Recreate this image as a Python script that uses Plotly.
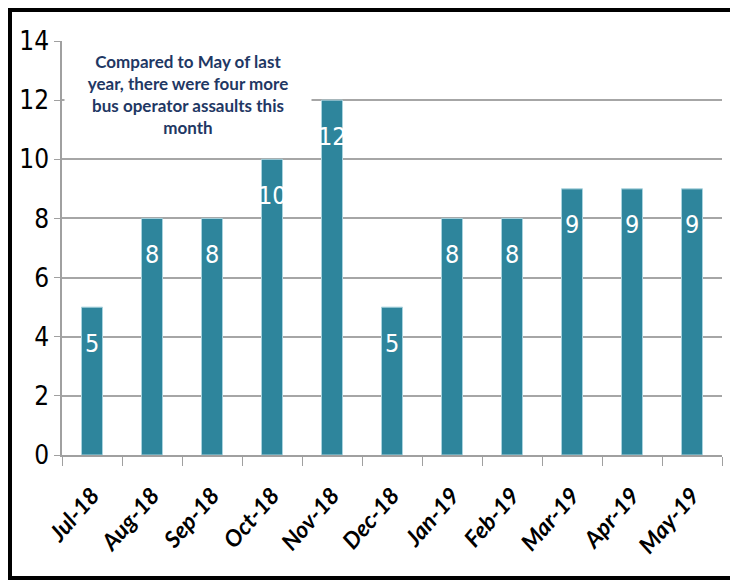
import plotly.graph_objects as go

months = ["Jul-18", "Aug-18", "Sep-18", "Oct-18", "Nov-18", "Dec-18",
          "Jan-19", "Feb-19", "Mar-19", "Apr-19", "May-19"]
assaults = [5, 8, 8, 10, 12, 5, 8, 8, 9, 9, 9]
y_ticks = [0, 2, 4, 6, 8, 10, 12, 14]
note = "Compared to May of last<br>year, there were four more<br>bus operator assaults this<br>month"

# page body adds an 8px offset, so the figure is 8px smaller
W, H = 730, 574
ML, MR, MT, MB = 54, 16, 33, 127
pw, ph = W - ML - MR, H - MT - MB

NARROW = "DejaVu Sans Condensed, Liberation Sans Narrow, Roboto, sans-serif"

fig = go.Figure(go.Bar(
    x=months, y=assaults,
    marker=dict(color="#2E859C", line=dict(color="#A9D3DE", width=1)),
    width=0.35, hoverinfo="x+y",
))

for m, v in zip(months, assaults):
    fig.add_annotation(x=m, y=v, xref="x", yref="y", text=str(v), showarrow=False,
                       yshift=-36, font=dict(family=NARROW, size=25, color="white"))

fig.add_annotation(xref="paper", yref="paper", x=(180 - ML) / pw, y=1 - 1 / ph,
                   xanchor="center", yanchor="top", text="<b>" + note + "</b>",
                   showarrow=False, align="center", bgcolor="white", width=244,
                   height=101, valign="middle", borderpad=1,
                   font=dict(family="Lato", size=17, color="#1F3864"))

# outer frame
fig.add_shape(type="rect", xref="paper", yref="paper",
              x0=(2 - ML) / pw, x1=(727 - ML) / pw,
              y0=-(570 - MT - ph) / ph, y1=1 + (MT - 2) / ph,
              line=dict(color="black", width=4), layer="above")

fig.update_layout(
    width=W, height=H, margin=dict(l=ML, r=MR, t=MT, b=MB),
    plot_bgcolor="white", paper_bgcolor="white", showlegend=False,
    xaxis=dict(type="category", tickson="boundaries", ticks="outside", ticklen=9,
               tickcolor="#A0A0A0", showline=True, linecolor="#A0A0A0", linewidth=1.5,
               tickangle=-49, showgrid=False, ticklabelstandoff=16,
               tickfont=dict(family="Lato", size=23, color="black", style="italic", weight="bold")),
    yaxis=dict(range=[0, 14], tickvals=y_ticks, ticks="outside", ticklen=6,
               tickcolor="#A0A0A0", showline=True, linecolor="#A0A0A0", linewidth=1.5,
               showgrid=True, gridcolor="#A6A6A6", gridwidth=1.5, zeroline=False,
               tickfont=dict(family=NARROW, size=26, color="black")),
)

fig.write_html("out.html")
